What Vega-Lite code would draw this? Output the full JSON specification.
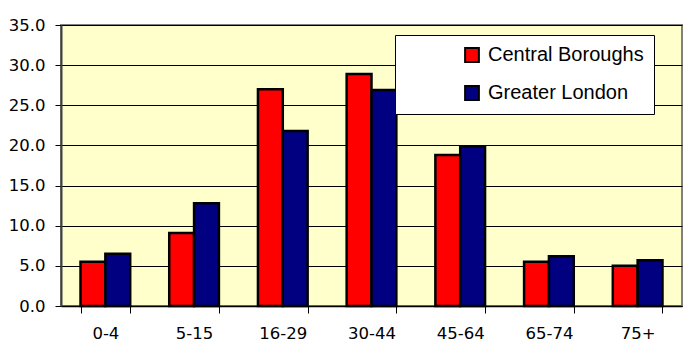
{
  "$schema": "https://vega.github.io/schema/vega-lite/v6.json",
  "width": 621,
  "height": 281,
  "autosize": {"type": "none"},
  "padding": {"left": 61, "top": 25, "right": 12, "bottom": 35},
  "background": "white",
  "config": {
    "view": {"fill": "#FFFFCC", "stroke": "#808080", "strokeWidth": 2},
    "font": "DejaVu Sans"
  },
  "data": {
    "values": [
      {"age": "0-4", "area": "Central Boroughs", "value": 5.5},
      {"age": "0-4", "area": "Greater London", "value": 6.5},
      {"age": "5-15", "area": "Central Boroughs", "value": 9.1},
      {"age": "5-15", "area": "Greater London", "value": 12.8},
      {"age": "16-29", "area": "Central Boroughs", "value": 27.0},
      {"age": "16-29", "area": "Greater London", "value": 21.8},
      {"age": "30-44", "area": "Central Boroughs", "value": 28.9},
      {"age": "30-44", "area": "Greater London", "value": 26.9},
      {"age": "45-64", "area": "Central Boroughs", "value": 18.8},
      {"age": "45-64", "area": "Greater London", "value": 19.9},
      {"age": "65-74", "area": "Central Boroughs", "value": 5.5},
      {"age": "65-74", "area": "Greater London", "value": 6.2},
      {"age": "75+", "area": "Central Boroughs", "value": 5.0},
      {"age": "75+", "area": "Greater London", "value": 5.7}
    ]
  },
  "mark": {"type": "bar", "stroke": "black", "strokeWidth": 2.5},
  "encoding": {
    "x": {
      "field": "age",
      "type": "nominal",
      "sort": ["0-4", "5-15", "16-29", "30-44", "45-64", "65-74", "75+"],
      "scale": {"paddingInner": 0.44, "paddingOuter": 0.22},
      "axis": {
        "title": null,
        "labelAngle": 0,
        "tickBand": "extent",
        "domainColor": "black",
        "domainWidth": 1.5,
        "tickColor": "black",
        "tickSize": 7,
        "labelFontSize": 16.5,
        "labelColor": "black",
        "labelPadding": 12
      }
    },
    "xOffset": {"field": "area", "type": "nominal", "sort": ["Central Boroughs", "Greater London"]},
    "y": {
      "field": "value",
      "type": "quantitative",
      "scale": {"domain": [0, 35], "nice": false},
      "axis": {
        "title": null,
        "values": [0, 5, 10, 15, 20, 25, 30, 35],
        "format": ".1f",
        "grid": true,
        "gridColor": "black",
        "domainColor": "#404040",
        "domainWidth": 2,
        "tickColor": "black",
        "tickSize": 6,
        "labelFontSize": 16.5,
        "labelColor": "black",
        "labelPadding": 10
      }
    },
    "color": {
      "field": "area",
      "type": "nominal",
      "sort": ["Central Boroughs", "Greater London"],
      "scale": {"domain": ["Central Boroughs", "Greater London"], "range": ["#FF0000", "#000080"]},
      "legend": {
        "title": null,
        "orient": "none",
        "legendX": 334,
        "legendY": 10,
        "fillColor": "white",
        "strokeColor": "black",
        "padding": 10,
        "symbolType": "square",
        "symbolSize": 190,
        "symbolStrokeColor": "black",
        "symbolStrokeWidth": 2,
        "symbolOffset": 57,
        "labelFont": "Liberation Sans",
        "labelFontSize": 20,
        "labelColor": "black",
        "labelOffset": 6,
        "labelLimit": 400,
        "rowPadding": 16,
        "labelExpr": "datum.label + '\u2003\u2003\u2003'"
      }
    }
  }
}
